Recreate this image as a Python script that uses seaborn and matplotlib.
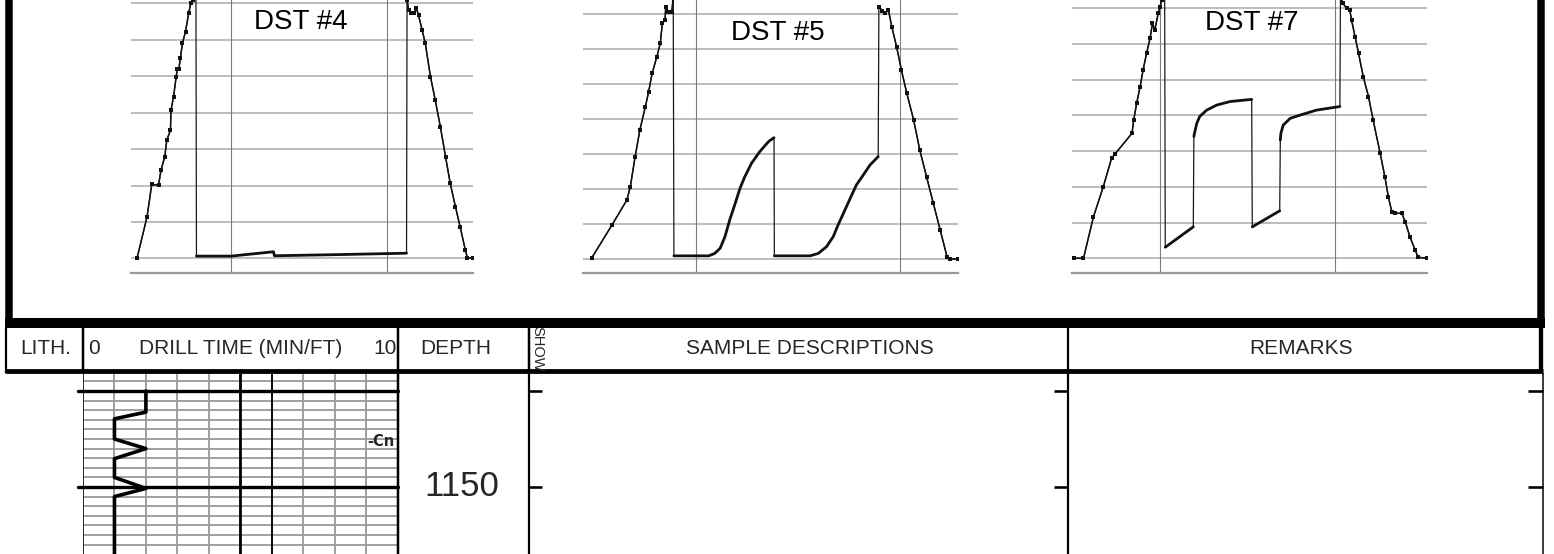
import numpy as np
import matplotlib
matplotlib.use('Agg')
import matplotlib.pyplot as plt
from matplotlib import font_manager
import seaborn as sns

# ── DATA: DST pressure charts (x = chart divisions, y = grid divisions) ──
dst4_in_t = [1.19, 1.38, 1.47, 1.60, 1.65, 1.72, 1.76, 1.83, 1.84, 1.89,
             1.94, 1.96, 1.99, 2.02, 2.06, 2.12, 2.18, 2.22, 2.27, 2.32]
dst4_in_p = [0.02, 1.14, 2.03, 2.01, 2.43, 2.79, 3.25, 3.52, 4.07, 4.44,
             4.99, 5.19, 5.19, 5.49, 5.91, 6.23, 6.73, 7.00, 7.10, 7.30]
dst4_flow_t = [2.33, 3.00, 3.81, 3.83, 5.00, 6.37]
dst4_flow_p = [0.06, 0.06, 0.18, 0.07, 0.10, 0.14]
dst4_out_t = [6.38, 6.38, 6.41, 6.46, 6.51, 6.56, 6.60, 6.67, 6.73, 6.83,
              6.92, 7.02, 7.12, 7.21, 7.31, 7.40, 7.50, 7.54, 7.65]
dst4_out_p = [7.30, 7.10, 6.82, 6.73, 6.73, 6.87, 6.68, 6.27, 5.91, 4.99,
              4.36, 3.62, 2.79, 2.06, 1.42, 0.87, 0.23, 0.02, 0.00]

dst5_in_t = [1.47, 1.77, 1.99, 2.04, 2.11, 2.18, 2.26, 2.31, 2.36, 2.43,
             2.48, 2.51, 2.55, 2.56, 2.60, 2.65, 2.67]
dst5_in_p = [0.02, 0.97, 1.69, 2.07, 2.92, 3.69, 4.35, 4.79, 5.31, 5.79,
             6.17, 6.74, 6.84, 7.22, 7.07, 7.07, 7.50]
dst5_per1_t = [2.68, 3.19, 3.28, 3.36, 3.43, 3.50, 3.58, 3.65, 3.72, 3.82,
               3.94, 4.07, 4.15]
dst5_per1_p = [0.09, 0.09, 0.16, 0.31, 0.64, 1.12, 1.59, 2.02, 2.35, 2.74,
               3.07, 3.36, 3.47]
dst5_per2_t = [4.155, 4.68, 4.80, 4.92, 5.02, 5.09, 5.17, 5.27, 5.36, 5.46,
               5.56, 5.68]
dst5_per2_p = [0.09, 0.09, 0.16, 0.35, 0.64, 0.97, 1.31, 1.74, 2.12, 2.40,
               2.69, 2.93]
dst5_out_t = [5.69, 5.74, 5.78, 5.83, 5.88, 5.95, 6.02, 6.10, 6.20, 6.29,
              6.39, 6.49, 6.59, 6.69, 6.73, 6.85]
dst5_out_p = [7.22, 7.10, 7.03, 7.12, 6.64, 6.07, 5.41, 4.74, 3.98, 3.12,
              2.35, 1.59, 0.83, 0.07, 0.00, 0.00]

dst7_in_t = [1.52, 1.69, 1.86, 2.03, 2.17, 2.23, 2.52, 2.55, 2.60, 2.66,
             2.71, 2.77, 2.83, 2.87, 2.91, 2.97, 3.00, 3.03, 3.08]
dst7_in_p = [0.00, 0.00, 1.16, 2.01, 2.80, 2.92, 3.50, 3.87, 4.34, 4.81,
             5.27, 5.74, 6.16, 6.58, 6.39, 6.86, 7.05, 7.23, 7.40]
dst7_flow1_t = [3.09, 3.57]
dst7_flow1_p = [0.31, 0.88]
dst7_shut1_t = [3.58, 3.59, 3.63, 3.68, 3.80, 3.97, 4.20, 4.57]
dst7_shut1_p = [3.41, 3.50, 3.78, 3.97, 4.15, 4.29, 4.39, 4.45]
dst7_flow2_t = [4.58, 5.05]
dst7_flow2_p = [0.88, 1.33]
dst7_shut2_t = [5.06, 5.07, 5.11, 5.23, 5.40, 5.68, 6.08]
dst7_shut2_p = [3.31, 3.50, 3.73, 3.92, 4.01, 4.15, 4.25]
dst7_out_t = [6.09, 6.13, 6.20, 6.25, 6.28, 6.34, 6.40, 6.48, 6.57, 6.65,
              6.77, 6.85, 6.91, 6.97, 7.03, 7.14, 7.20, 7.28, 7.37, 7.42, 7.57]
dst7_out_p = [7.35, 7.14, 7.00, 6.95, 6.67, 6.21, 5.74, 5.09, 4.53, 3.87,
              2.94, 2.29, 1.72, 1.30, 1.26, 1.26, 1.02, 0.60, 0.23, 0.03, 0.00]

# ── DATA: drill time log ──
drill_rate = [2.0, 2.0, 1.0, 1.0, 2.0, 1.0, 1.0, 2.0, 1.0, 1.0]
drill_depth = [1140.0, 1142.2, 1142.9, 1145.0, 1146.0, 1147.05, 1149.0,
               1150.15, 1151.0, 1157.5]
depth_marks = [1140, 1150]
depth_labels = ['1150']
depth_label_at = [1150]
conn_label = '-Cn'
conn_depth = 1145.3

header_labels = ['LITH.', 'DRILL TIME (MIN/FT)', 'DEPTH',
                 'SAMPLE DESCRIPTIONS', 'REMARKS']
dst_titles = ['DST #4', 'DST #5', 'DST #7']

# ── LAYOUT (pixels) ──
W, H = 1554, 554
AXIS_Y = 273.3
header_x = [46, 241, 456, 810, 1301]
# (grid x=3 px, px per division, left, right, baseline px, px per grid, title x, title y)
dst_layout = [(231.3, 52.0, 131, 473, 258.3, 36.4, 301, 21.7),
              (695.7, 68.1, 583, 958, 259.0, 34.96, 778, 33.0),
              (1160.0, 58.4, 1072, 1427, 258.3, 35.71, 1252, 23.3)]

sns.set_style('white')
plt.rcParams['font.family'] = ['Liberation Sans', 'DejaVu Sans']

installed = {f.name for f in font_manager.fontManager.ttflist}
narrow = 'Liberation Sans Narrow' if 'Liberation Sans Narrow' in installed else None

fig = plt.figure(figsize=(W / 100, H / 100), dpi=100)
fig.patch.set_facecolor('white')


def px_axes(x0, y0, x1, y1):
    return fig.add_axes([x0 / W, 1 - y1 / H, (x1 - x0) / W, (y1 - y0) / H])


def draw_dst(title, lay, t_in, p_in, periods, t_out, p_out):
    g3, s, L, R, b0, h, tx, ty = lay
    top = -40
    ax = px_axes(L, top, R, AXIS_Y)
    xmin, xmax = 3 + (L - g3) / s, 3 + (R - g3) / s
    ax.set_xlim(xmin, xmax)
    ax.set_ylim((b0 - AXIS_Y) / h, (b0 - top) / h)
    for v in range(0, 9):
        ax.axhline(v, color='#bdbdbd', lw=1.4, zorder=0)
    for v in (3, 6):
        ax.axvline(v, color='#7d7d7d', lw=0.8, zorder=0)
    # whole record, thin
    t_all = list(t_in) + [t for pt, _ in periods for t in pt] + list(t_out)
    p_all = list(p_in) + [p for _, pp in periods for p in pp] + list(p_out)
    sns.lineplot(x=t_all, y=p_all, sort=False, estimator=None, ax=ax,
                 color='#1a1a1a', lw=0.9, zorder=3)
    # running in / pulling out, dotted samples
    for tt, pp in ((t_in, p_in), (t_out, p_out)):
        sns.lineplot(x=tt, y=pp, sort=False, estimator=None, ax=ax,
                     color='#111111', lw=1.1, marker='s', markersize=2.4,
                     markeredgewidth=0, zorder=4)
    # flow / shut-in periods, thick
    for pt, pp in periods:
        sns.lineplot(x=pt, y=pp, sort=False, estimator=None, ax=ax,
                     color='#111111', lw=2.0, zorder=5)
    ax.set_xticks(np.arange(int(np.ceil(xmin)), int(np.floor(xmax)) + 1))
    ax.set_yticks([])
    ax.tick_params(axis='x', direction='in', length=3, width=0.8,
                   color='#999999', labelbottom=False)
    for sp in ('left', 'right', 'top'):
        ax.spines[sp].set_visible(False)
    ax.spines['bottom'].set_color('#9a9a9a')
    ax.spines['bottom'].set_linewidth(1.6)
    ax.set_xlabel('')
    ax.set_ylabel('')
    fig.text(tx / W, 1 - ty / H, title, fontsize=20, ha='center',
             va='center', color='black')


draw_dst(dst_titles[0], dst_layout[0], dst4_in_t, dst4_in_p,
         [(dst4_flow_t, dst4_flow_p)], dst4_out_t, dst4_out_p)
draw_dst(dst_titles[1], dst_layout[1], dst5_in_t, dst5_in_p,
         [(dst5_per1_t, dst5_per1_p), (dst5_per2_t, dst5_per2_p)],
         dst5_out_t, dst5_out_p)
draw_dst(dst_titles[2], dst_layout[2], dst7_in_t, dst7_in_p,
         [(dst7_flow1_t, dst7_flow1_p), (dst7_shut1_t, dst7_shut1_p),
          (dst7_flow2_t, dst7_flow2_p), (dst7_shut2_t, dst7_shut2_p)],
         dst7_out_t, dst7_out_p)

# ── DRILL TIME TRACK ──
PX_PER_FT = 9.6
Y1140 = 391.0
d_top = 1140 - (Y1140 - 373) / PX_PER_FT
d_bot = 1140 + (554 - Y1140) / PX_PER_FT
ax_dt = px_axes(83, 373, 397.5, 554)
ax_dt.set_xlim(0, 10)
ax_dt.set_ylim(d_bot, d_top)
for v in range(11):
    ax_dt.axvline(v, color='#999999', lw=1.3, zorder=1)
ax_dt.axvline(0, color='#222222', lw=1.3, zorder=2)
ax_dt.axvline(5, color='black', lw=2.0, zorder=2)
ax_dt.axvline(6, color='black', lw=1.3, zorder=2)
for d in range(int(np.ceil(d_top)), int(d_bot) + 1):
    ax_dt.axhline(d, color='#999999', lw=1.3, zorder=1)
for d in depth_marks:
    ax_dt.axhline(d, xmin=-0.015, xmax=1.0, color='black', lw=2.4,
                  zorder=2, clip_on=False)
sns.lineplot(x=drill_rate, y=drill_depth, sort=False, estimator=None,
             ax=ax_dt, color='black', lw=2.6, zorder=4)
ax_dt.text(9.9, conn_depth, conn_label, fontsize=10.5, fontweight='bold',
           family='DejaVu Sans', ha='right', va='center', zorder=5)
for lab, d in zip(depth_labels, depth_label_at):
    ax_dt.text(12.05, d, lab, fontsize=25, ha='center', va='center',
               clip_on=False)
ax_dt.set_xticks([])
ax_dt.set_yticks([])
for sp in ax_dt.spines.values():
    sp.set_visible(False)
ax_dt.set_xlabel('')
ax_dt.set_ylabel('')

# ── FRAME, HEADER ROW, COLUMN LINES ──
ov = fig.add_axes([0, 0, 1, 1])
ov.set_xlim(0, W)
ov.set_ylim(H, 0)
ov.axis('off')
ov.set_zorder(10)


def seg(x0, y0, x1, y1, px, color='black'):
    ov.plot([x0, x1], [y0, y1], color=color, lw=px * 0.72,
            solid_capstyle='butt')


# top panel frame
seg(8.7, -5, 8.7, 328, 7.5)
seg(1540.8, -5, 1540.8, 328, 7.5)
seg(5, 323, 1544.5, 323, 10)
# header row
seg(6.2, 328, 6.2, 373, 2.2)
for x in (82.8, 397.9, 528.5):
    seg(x, 328, x, 373, 2.5)
seg(1068, 328, 1068, 373, 2.2)
seg(1540.8, 328, 1540.8, 373, 4.3)
seg(5, 370.7, 1543, 370.7, 4.8)
# body column lines
seg(397.9, 373, 397.9, 554, 2.5)
seg(528.5, 373, 528.5, 554, 2.2)
seg(1068, 373, 1068, 554, 2.2)
seg(1542.7, 373, 1542.7, 554, 1.5)
for d in depth_marks:
    y = Y1140 + (d - 1140) * PX_PER_FT
    seg(528.5, y, 542, y, 2.6)
    seg(1054, y, 1068, y, 2.6)
    seg(1528, y, 1542.7, y, 2.6)

# header texts
for lab, x in zip(header_labels, header_x):
    ov.text(x, 348.5, lab, fontsize=15, ha='center', va='center')
ov.text(88, 348.5, '0', fontsize=15, ha='left', va='center')
ov.text(397, 348.5, '10', fontsize=15, ha='right', va='center')
if narrow:
    ov.text(537, 348.5, 'SHOW', fontsize=12, rotation=270, family=narrow,
            ha='center', va='center')
else:
    ov.text(537, 348.5, 'SHOW', fontsize=10.5, rotation=270,
            ha='center', va='center')

fig.savefig('out.png', dpi=100, facecolor='white')
plt.close(fig)
